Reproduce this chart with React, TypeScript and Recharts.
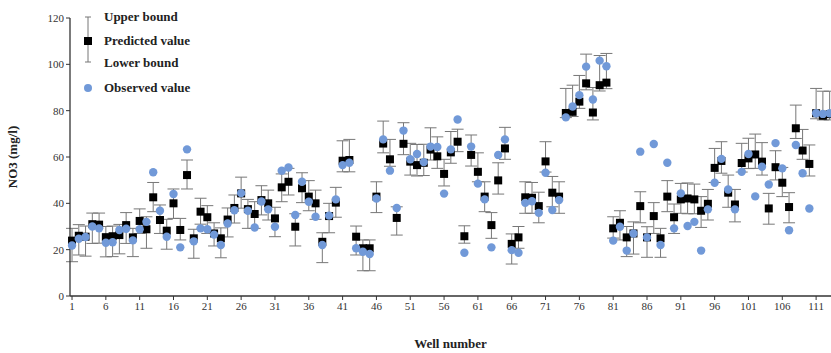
import { ComposedChart, Scatter, XAxis, YAxis, ErrorBar } from 'recharts'

// NO3 per well (wells 1..113)
const predicted = [
  23.9, 26, 25.6, 31, 30.8, 25.4, 25.8, 26.3, 30.6, 25.3,
  32.4, 28.8, 42.6, 32.8, 28.2, 40, 28.5, 52.2, 24.9, 36.4,
  34, 27, 24.9, 33, 38, 44.3, 37.5, 35.4, 41.4, 40,
  33.5, 46.9, 49.3, 29.9, 46.5, 42.9, 40, 23.4, 34.5, 40.3,
  58.4, 58.7, 25.6, 20.6, 20.6, 42.9, 65.8, 59, 33.7, 65.7,
  58, 56.5, 57.5, 63.2, 60.3, 52.7, 62, 66.6, 25.8, 60.9,
  53.6, 42.9, 30.6, 49.9, 63.7, 22.5, 25.3, 42.6, 42.4, 38.8,
  58.1, 44.6, 42.9, 79, 79.5, 83.9, 91.8, 79.2, 91, 92.1,
  29.2, 31.6, 25.3, 27, 38.8, 25.3, 34.5, 24.9, 42.9, 34,
  41.7, 42.1, 41.7, 36.8, 39.8, 55.3, 58.3, 44.6, 39.5, 57.4,
  59.4, 61.1, 58, 37.8, 55.6, 48.9, 38.4, 72.4, 62.8, 57,
  78.9, 77.8, 78.5,
]

const observed = [
  21.8, 24.7, 25.5, 30, 29.2, 23, 23.2, 28.5, 29, 24,
  28.8, 32, 53.4, 36.8, 25.6, 44, 21, 63.3, 23.6, 29.2,
  28.8, 26.5, 22, 31.3, 37, 44.4, 36.8, 29.6, 40.8, 37.4,
  29.9, 54.1, 55.5, 35, 49.3, 40.7, 34.2, 22, 34.7, 41.7,
  56.5, 57.5, 20.6, 19.1, 18.1, 42.1, 67.6, 54.1, 38, 71.4,
  59, 61.3, 57.8, 64.5, 64.3, 44.2, 63.3, 76.2, 18.7, 64.5,
  48.5, 41.7, 21, 60.9, 67.6, 19.8, 18.7, 40.2, 40.9, 35.9,
  53.2, 37.1, 41.4, 77.1, 81.8, 86.7, 99, 84.8, 101.6, 99.2,
  23.9, 29.9, 19.6, 27, 62.3, 25.3, 65.6, 22, 57.5, 29.2,
  44.3, 30.2, 32, 19.6, 37.4, 48.9, 59.2, 46, 37.4, 53.6,
  61.3, 43, 55.8, 48.1, 66, 55.1, 28.4, 65.2, 53, 37.8,
  78.9, 78.6, 78.9,
]

const upperBound = [
  29.2, 30.8, 30.2, 35.8, 35.8, 30, 30.2, 30.9, 36, 29.2,
  37.6, 34.2, 49, 39.3, 33.1, 46.2, 33.5, 58.7, 28.8, 42.2,
  39, 31.6, 29.4, 38, 43.6, 51.3, 41.7, 40.7, 47.6, 45.7,
  38.3, 52.7, 55.1, 35.5, 53.2, 49.8, 45.7, 27.3, 40, 46.9,
  67, 67.6, 30.2, 24.2, 24.2, 49.3, 75.5, 67.6, 38.5, 74.8,
  65.9, 65.4, 65.5, 72.6, 68.7, 59, 71, 72, 30.3, 69.5,
  61.8, 49.3, 36, 57.5, 72.8, 26.8, 30, 49.3, 49, 44.8,
  66.6, 51.6, 49.3, 89.6, 91, 95.2, 104.4, 90, 103.8, 104.7,
  34.2, 36.8, 30, 32, 45, 29.9, 40.3, 29.2, 49.8, 39.7,
  48.6, 48.8, 48.3, 42.9, 46, 63.7, 66.6, 52.2, 46, 65.9,
  68.1, 69.9, 66.2, 44.3, 62.7, 55.5, 44.6, 82.4, 71.9, 65.2,
  89.6, 88.4, 88.4,
]

const lowerBound = [
  14.8, 17.7, 17.2, 22.7, 22.8, 16.9, 17, 18.2, 22.7, 17,
  27, 20.6, 36.4, 27, 20.2, 33.5, 24.2, 46.2, 16.3, 31,
  27, 21.6, 16.5, 25.5, 31.5, 37.9, 29.2, 29.2, 35, 32.8,
  25.6, 40.7, 43.6, 21.6, 40.3, 36.8, 33.1, 14.4, 27.3, 34,
  53.6, 53.6, 17.7, 10.9, 10.9, 36, 61.8, 56, 26.3, 61,
  52.2, 51.8, 52, 58.7, 55.1, 47.5, 57.3, 62.3, 22.8, 56.1,
  49.3, 36.4, 24.9, 44, 59, 13.8, 20.6, 35.7, 35.7, 31.6,
  53.5, 38.5, 35.7, 77, 77.5, 81, 89, 76, 88.5, 89.5,
  25, 24.2, 17, 18.1, 31.6, 16.7, 27, 16.7, 36.4, 27,
  35.7, 35.5, 35.5, 29.6, 32.8, 49, 53, 38.3, 32, 53.5,
  55, 55.1, 52.2, 31, 50.1, 42.9, 31.6, 68, 59, 51.8,
  76.5, 76, 76,
]

const xTicks = [1, 6, 11, 16, 21, 26, 31, 36, 41, 46, 51, 56, 61, 66, 71, 76, 81, 86, 91, 96, 101, 106, 111]
const yTicks = [0, 20, 40, 60, 80, 100, 120]

const data = predicted.map((p, i) => ({
  well: i + 1,
  pred: p,
  obs: observed[i],
  err: [p - lowerBound[i], upperBound[i] - p],
}))

const SERIF = '"Liberation Serif", "Times New Roman", serif'
const BLUE = '#7199d8'

const Square = (props: any) => (
  <rect x={props.cx - 4} y={props.cy - 4} width={8} height={8} fill="#000" />
)
const Dot = (props: any) => <circle cx={props.cx} cy={props.cy} r={4.2} fill={BLUE} />

function LegendBox() {
  const txt = { fontFamily: SERIF, fontWeight: 700, fontSize: 13, fill: '#222' }
  return (
    <svg width={200} height={100} style={{ position: 'absolute', left: 0, top: 0 }}>
      <line x1={88} x2={88} y1={17} y2={62} stroke="#777" />
      <line x1={85} x2={91} y1={17} y2={17} stroke="#777" />
      <line x1={85} x2={91} y1={62} y2={62} stroke="#777" />
      <rect x={84} y={37} width={8} height={8} fill="#000" />
      <circle cx={88} cy={88} r={4} fill={BLUE} />
      <text x={104} y={21} {...txt}>Upper bound</text>
      <text x={104} y={45} {...txt}>Predicted value</text>
      <text x={104} y={67} {...txt}>Lower bound</text>
      <text x={104} y={92} {...txt}>Observed value</text>
    </svg>
  )
}

export default function App() {
  const tick = { fontSize: 11, fill: '#333', fontFamily: SERIF }
  return (
    <div style={{ position: 'absolute', left: 0, top: 0, width: 831, height: 353, background: '#fff' }}>
      <ComposedChart width={831} height={353} data={data} margin={{ top: 18, right: 0, bottom: 27, left: 0 }}>
        <XAxis
          type="number"
          dataKey="well"
          domain={[0.7, 113.2]}
          ticks={xTicks}
          interval={0}
          tick={tick}
          tickSize={4}
          axisLine={{ stroke: '#333', strokeWidth: 1.3 }}
          tickLine={{ stroke: '#333' }}
          height={30}
          label={{ value: 'Well number', position: 'insideBottom', offset: -22, style: { fontFamily: SERIF, fontWeight: 700, fontSize: 13, fill: '#222' } }}
        />
        <YAxis
          type="number"
          domain={[0, 120]}
          ticks={yTicks}
          tick={tick}
          tickSize={4}
          width={70}
          axisLine={{ stroke: '#333', strokeWidth: 1.3 }}
          tickLine={{ stroke: '#333' }}
          label={{ value: 'NO3 (mg/l)', angle: -90, position: 'insideLeft', offset: 12, style: { textAnchor: 'middle', fontFamily: SERIF, fontWeight: 700, fontSize: 13, fill: '#222' } }}
        />
        <Scatter dataKey="pred" shape={Square} isAnimationActive={false}>
          <ErrorBar dataKey="err" direction="y" width={6} stroke="#777" strokeWidth={1} isAnimationActive={false} />
        </Scatter>
        <Scatter dataKey="obs" shape={Dot} isAnimationActive={false} />
      </ComposedChart>
      <LegendBox />
    </div>
  )
}
